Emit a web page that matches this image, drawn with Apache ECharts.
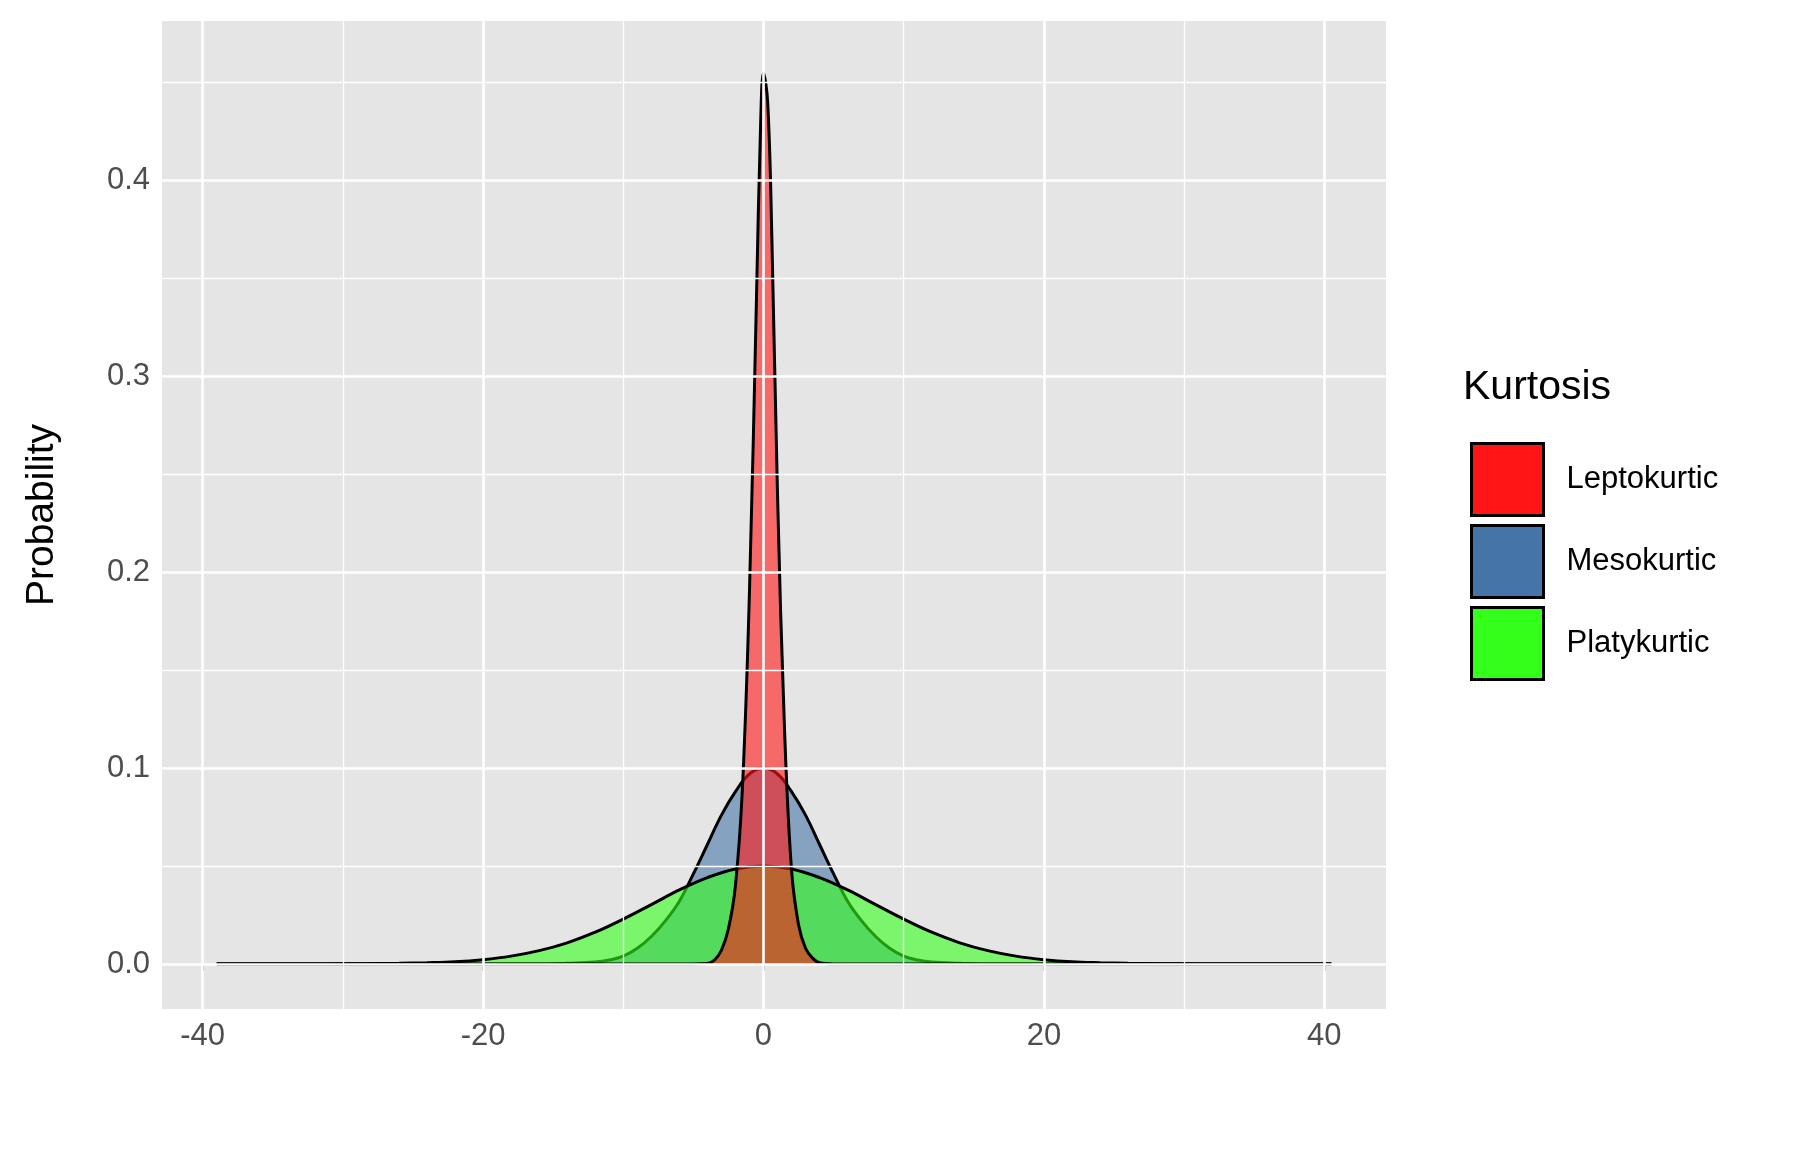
<!DOCTYPE html>
<html><head><meta charset="utf-8">
<script src="https://cdn.jsdelivr.net/npm/echarts@6/dist/echarts.min.js"></script>
<style>html,body{margin:0;padding:0;background:#fff}#c{width:1815px;height:1155px}</style>
</head><body><div id="c"></div>
<script>
const xMajor=[-40,-20,0,20,40];
const xMinor=[-30,-10,10,30];
const yMajor=[0,0.1,0.2,0.3,0.4];
const yMinor=[0.05,0.15,0.25,0.35,0.45];
const seriesNames=['Leptokurtic','Mesokurtic','Platykurtic'];
const fills=['#FF1515','#4575A8','#33FF1A'];
const lepto=[[-39,0],[-5,0],[-4,0.0002],[-3.5,0.002],[-3,0.007],[-2.5,0.018],[-2,0.040],[-1.5,0.090],[-1,0.190],[-0.5,0.340],[-0.2,0.430],[0,0.455],[0.3,0.440],[0.6,0.370],[1,0.240],[1.5,0.120],[2,0.048],[2.5,0.020],[3,0.008],[3.5,0.003],[4,0.0006],[5,0],[40.5,0]];
const meso=[[-39,0],[-16,0],[-14,0.0004],[-12,0.001],[-11,0.002],[-10,0.004],[-9,0.008],[-8,0.014],[-7,0.022],[-6,0.032],[-5,0.046],[-4,0.061],[-3,0.076],[-2,0.088],[-1,0.097],[0,0.100],[1,0.097],[2,0.088],[3,0.076],[4,0.061],[5,0.046],[6,0.032],[7,0.022],[8,0.014],[9,0.008],[10,0.004],[11,0.002],[12,0.001],[14,0.0004],[16,0],[40.5,0]];
const platy=[[-39,0],[-32,0],[-30,0.00005],[-28,0.0001],[-26,0.0003],[-24,0.0006],[-22,0.0011],[-20,0.0022],[-18,0.0040],[-16,0.0068],[-14,0.0108],[-12,0.0162],[-10,0.0229],[-8,0.0303],[-6,0.0378],[-4,0.0441],[-2,0.0485],[0,0.0500],[2,0.0485],[4,0.0441],[6,0.0378],[8,0.0303],[10,0.0229],[12,0.0162],[14,0.0108],[16,0.0068],[18,0.0040],[20,0.0022],[22,0.0011],[24,0.0006],[26,0.0003],[28,0.0001],[30,0.00005],[32,0],[40.5,0]];
const dataSets=[lepto,meso,platy];
function rgba(h,a){const n=parseInt(h.slice(1),16);return `rgba(${n>>16},${(n>>8)&255},${n&255},${a})`;}
const chart=echarts.init(document.getElementById('c'));
const gridSeries={type:'line',data:[],z:1,silent:true,markLine:{symbol:'none',silent:true,label:{show:false},animation:false,
 data:[...xMinor.map(v=>({xAxis:v,lineStyle:{color:'#fff',width:1.3,type:'solid'}})),
       ...yMinor.map(v=>({yAxis:v,lineStyle:{color:'#fff',width:1.3,type:'solid'}})),
       ...xMajor.map(v=>({xAxis:v,lineStyle:{color:'#fff',width:2.6,type:'solid'}})),
       ...yMajor.map(v=>({yAxis:v,lineStyle:{color:'#fff',width:2.6,type:'solid'}}))]}};
const order=[1,2,0];
const series=[gridSeries];
order.forEach((i,k)=>series.push({name:seriesNames[i],type:'line',data:dataSets[i],smooth:0.4,symbol:'none',z:2+k,
 itemStyle:{color:fills[i]},lineStyle:{color:'#000',width:3},areaStyle:{color:rgba(fills[i],0.6),opacity:1}}));
chart.setOption({animation:false,
 grid:{left:162,right:429,top:21,bottom:146,show:true,backgroundColor:'#E5E5E5',borderWidth:0},
 xAxis:{type:'value',min:-42.9,max:44.4,splitLine:{show:false},axisLine:{show:false},
  axisTick:{show:true,customValues:xMajor,length:7,lineStyle:{color:'#333',width:2}},
  axisLabel:{customValues:xMajor,fontSize:31,color:'#4D4D4D',fontFamily:'Liberation Sans',margin:12}},
 yAxis:{type:'value',min:-0.023,max:0.4815,splitLine:{show:false},axisLine:{show:false},
  name:'Probability',nameLocation:'middle',nameGap:100,nameTextStyle:{fontSize:39,color:'#000',fontFamily:'Liberation Sans'},
  axisTick:{show:true,customValues:yMajor,length:7,lineStyle:{color:'#333',width:2}},
  axisLabel:{customValues:yMajor,fontSize:31,color:'#4D4D4D',fontFamily:'Liberation Sans',margin:12,formatter:v=>v.toFixed(1)}},
 legend:{orient:'vertical',left:1465,top:437,icon:'rect',itemWidth:72,itemHeight:72,itemGap:7,
  data:seriesNames.map((n,i)=>({name:n,itemStyle:{color:fills[i],borderColor:'#000',borderWidth:3},lineStyle:{width:0}})),
  textStyle:{fontSize:31,color:'#000',fontFamily:'Liberation Sans',padding:[0,0,0,18]}},
 graphic:[{type:'text',left:1463,top:367,style:{text:'Kurtosis',fontSize:41,fill:'#000',fontFamily:'Liberation Sans'}}],
 series});
</script></body></html>
